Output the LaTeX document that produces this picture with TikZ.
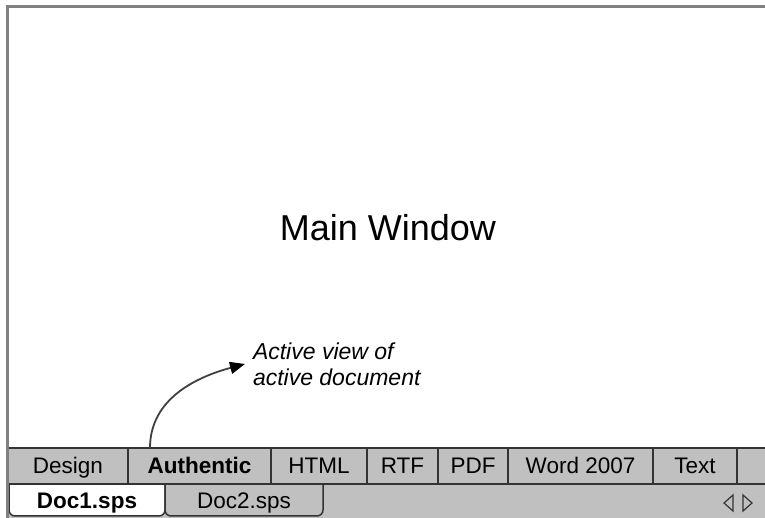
\documentclass[tikz,border=0pt]{standalone}
\usepackage{fontspec}
\setmainfont{Liberation Sans}
\usetikzlibrary{positioning}
\usetikzlibrary{arrows.meta}
\usetikzlibrary{backgrounds}
\definecolor{tabgray}{HTML}{C0C0C0}
\definecolor{framegray}{HTML}{808080}
\definecolor{edgegray}{HTML}{333333}
\tikzstyle{viewtab}=[draw=edgegray,fill=tabgray,line width=1.5pt,minimum height=36pt,inner sep=0pt,outer sep=0pt,text height=18pt,text depth=2pt,font=\fontsize{22.5}{24}\selectfont]
\tikzstyle{doctab}=[minimum height=32pt,inner sep=0pt,outer sep=0pt,text height=19pt,text depth=1pt,font=\fontsize{22.5}{24}\selectfont]
\tikzstyle{tabedge}=[draw=edgegray,line width=1.5pt,rounded corners=6pt]
\tikzstyle{note}=[align=left,inner xsep=8pt,inner ysep=0pt,outer sep=0pt,font=\fontsize{23}{26}\selectfont\itshape]

\begin{document}
\begin{tikzpicture}[x=1pt,y=1pt]
  \useasboundingbox (0,0) rectangle (765,518);
  % main window
  \node [font=\fontsize{36}{40}\selectfont] (title) at (388,290) {Main Window};
  % view tabs
  \node [viewtab,minimum width=120pt,anchor=north west] (design) at (8,70) {Design};
  \node [viewtab,minimum width=143pt,font=\fontsize{22.5}{24}\selectfont\bfseries] (authentic) [right=0pt of design] {Authentic};
  \node [viewtab,minimum width=96pt] (html) [right=0pt of authentic] {HTML};
  \node [viewtab,minimum width=71pt] (rtf) [right=0pt of html] {RTF};
  \node [viewtab,minimum width=70pt] (pdf) [right=0pt of rtf] {PDF};
  \node [viewtab,minimum width=145pt] (word) [right=0pt of pdf] {Word 2007};
  \node [viewtab,minimum width=84pt] (text) [right=0pt of word] {Text};
  \node [viewtab,minimum width=40pt] (blank) [right=0pt of text] {};
  % document tabs
  \node [doctab,minimum width=156pt,anchor=north west] (doc1) at (9,34) {\bfseries Doc1.sps};
  \node [doctab,minimum width=158pt] (doc2) [right=0pt of doc1] {Doc2.sps};
  \begin{scope}[on background layer]
    \fill [tabgray] (8,0) rectangle (767,34);
    \draw [tabedge,fill=white] (doc1.north west) -- (doc1.south west) -- (doc1.south east) -- (doc1.north east);
    \draw [tabedge,fill=tabgray] (doc2.north west) -- (doc2.south west) -- (doc2.south east) -- (doc2.north east);
  \end{scope}
  % scroll buttons
  \draw [edgegray,line width=1.2pt] (733,23) -- (724,15) -- (733,7) -- cycle;
  \draw [edgegray,line width=1.2pt] (743,23) -- (752,15) -- (743,7) -- cycle;
  % annotation
  \node [note,anchor=west] (note) at (245,154) {Active view of\\active document};
  \draw [draw=black!75,line width=1.8pt,-{Triangle[length=15pt,width=12pt,black]}] ([xshift=22pt]authentic.north west) to[out=90,in=195] (note.west);
  % window frame
  \draw [framegray,line width=3pt] (7,0) -- (7,511) -- (767,511);
\end{tikzpicture}
\end{document}
